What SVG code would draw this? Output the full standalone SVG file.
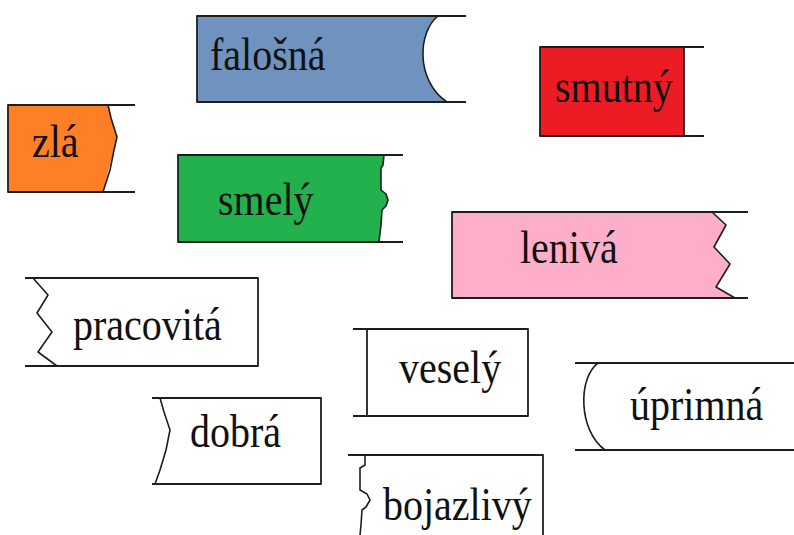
<svg xmlns="http://www.w3.org/2000/svg" width="794" height="535" viewBox="0 0 794 535">
<style>
.ln{fill:none;stroke:#1e1e1e;stroke-width:1.8;stroke-linejoin:round}
.ed{fill:none;stroke:#1e1e1e;stroke-width:1.6;stroke-linejoin:round}
.t{font-family:"Liberation Serif","Times New Roman",serif;font-size:40px;fill:#111}
</style>
<rect width="794" height="535" fill="#ffffff"/>
<g id="falosna">
<path d="M197,16 L438,16 C418,32 415,80 447,102 L197,102 Z" fill="#7092be"/>
<path class="ln" d="M466,16 L197,16 L197,102 L466,102"/>
<path class="ed" d="M438,16 C418,32 415,80 447,102"/>
<text class="t" transform="translate(210,70) scale(1,1.18)">falošná</text>
</g>
<g id="zla">
<path d="M8,105 L108,105 L117,137 L103,192 L8,192 Z" fill="#ff7f27"/>
<path class="ln" d="M135,105 L8,105 L8,192 L135,192"/>
<path class="ed" d="M108,105 L111,118 L117,137 L114,150 L110,170 L103,192"/>
<text class="t" transform="translate(32,157) scale(1,1.18)">zlá</text>
</g>
<g id="smutny">
<rect x="540" y="47" width="144" height="89" fill="#ed1c24"/>
<path class="ln" d="M704,47 L540,47 L540,136 L704,136 M684,47 L684,136"/>
<text class="t" transform="translate(555,102) scale(1,1.18)">smutný</text>
</g>
<g id="smely">
<path d="M178,155 L384,155 L383,165 L381,168 L381,190 L386,194 L388,200 L386,206 L382,210 L381,225 L379,242 L178,242 Z" fill="#22b14c"/>
<path class="ln" d="M403,155 L178,155 L178,242 L403,242"/>
<path class="ed" d="M384,155 L383,165 L381,168 L381,190 L386,194 L388,200 L386,206 L382,210 L381,225 L379,242"/>
<text class="t" transform="translate(218,215) scale(1,1.18)">smelý</text>
</g>
<g id="leniva">
<path d="M452,212 L712,212 L726,225 L714,247 L730,264 L716,287 L735,298 L452,298 Z" fill="#ffaec9"/>
<path class="ln" d="M748,212 L452,212 L452,298 L748,298"/>
<path class="ed" d="M712,212 L726,225 L714,247 L730,264 L716,287 L735,298"/>
<text class="t" transform="translate(520,263) scale(1,1.18)">lenivá</text>
</g>
<g id="pracovita">
<path class="ln" d="M25,278 L258,278 L258,366 L25,366"/>
<path class="ed" d="M33,278 L48,295 L37,313 L52,332 L38,352 L57,366"/>
<text class="t" transform="translate(73,340) scale(1,1.18)">pracovitá</text>
</g>
<g id="vesely">
<path class="ln" d="M353,329 L528,329 L528,416 L353,416 M367,329 L367,416"/>
<text class="t" transform="translate(399,383) scale(1,1.18)">veselý</text>
</g>
<g id="dobra">
<path class="ln" d="M152,398 L321,398 L321,484 L152,484"/>
<path class="ed" d="M160,398 L164,412 L170,430 L166,450 L160,470 L155,484"/>
<text class="t" transform="translate(190,447) scale(1,1.18)">dobrá</text>
</g>
<g id="uprimna">
<path class="ln" d="M575,363 L794,363 M575,450 L794,450"/>
<path class="ed" d="M598,363 C578,378 578,430 605,450"/>
<text class="t" transform="translate(630,420) scale(1,1.18)">úprimná</text>
</g>
<g id="bojazlivy">
<path class="ln" d="M348,455 L543,455 L543,535"/>
<path class="ed" d="M365,455 L365,465 L360,468 L360,490 L367,494 L370,500 L366,507 L362,510 L361,525 L360,535"/>
<text class="t" transform="translate(383,520) scale(1,1.18)">bojazlivý</text>
</g>
<g id="connectors"></g>
</svg>
